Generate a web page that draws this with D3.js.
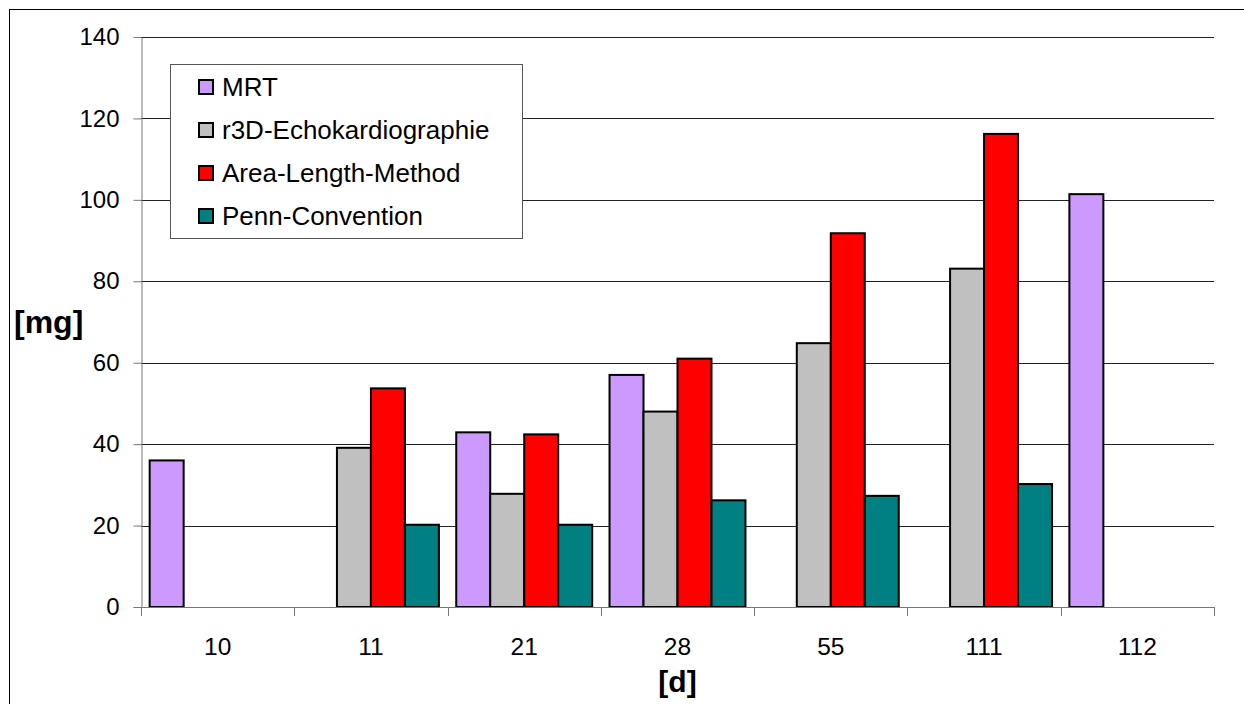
<!DOCTYPE html>
<html>
<head>
<meta charset="utf-8">
<script src="https://cdn.jsdelivr.net/npm/d3@7"></script>
<style>
  html, body { margin: 0; padding: 0; background: #fff; }
  svg { display: block; font-family: Arial, "Liberation Sans", sans-serif; }
</style>
</head>
<body>
<svg id="chart" width="1244" height="704"></svg>
<script>
// Days after measurement start
const categories = ["10", "11", "21", "28", "55", "111", "112"];
const seriesNames = ["MRT", "r3D-Echokardiographie", "Area-Length-Method", "Penn-Convention"];
const seriesColors = ["#CC99FF", "#C0C0C0", "#FF0000", "#008080"];
// Left-ventricular mass per method [mg]; null = not measured
const mrt   = [36, null, 42.9, 57, null, null, 101.4];
const r3d   = [null, 39.1, 27.8, 48.0, 64.8, 83.1, null];
const alm   = [null, 53.7, 42.4, 61.0, 91.8, 116.2, null];
const penn  = [null, 20.2, 20.2, 26.2, 27.3, 30.2, null];
const yTicks = [0, 20, 40, 60, 80, 100, 120, 140];

const seriesValues = [mrt, r3d, alm, penn];

const svg = d3.select("#chart");
const plotLeft = 141, plotRight = 1214, plotTop = 37, plotBottom = 607;

// outer chart frame
svg.append("rect")
  .attr("x", 9.5).attr("y", 9.5)
  .attr("width", 1300).attr("height", 800)
  .attr("fill", "none").attr("stroke", "#000").attr("stroke-width", 1);

const x = d3.scaleBand().domain(categories).range([plotLeft, plotRight]).padding(0);
const xi = d3.scaleBand().domain(seriesNames).range([0, x.bandwidth()])
  .paddingInner(0).paddingOuter(0.255);
const y = d3.scaleLinear().domain([0, 140]).range([plotBottom, plotTop]);

// horizontal gridlines
svg.append("g").selectAll("line")
  .data(yTicks.filter(t => t > 0))
  .join("line")
  .attr("x1", plotLeft).attr("x2", plotRight)
  .attr("y1", d => Math.round(y(d)) + 0.5).attr("y2", d => Math.round(y(d)) + 0.5)
  .attr("stroke", "#222").attr("stroke-width", 1);

// y axis
const yAxis = svg.append("g")
  .attr("transform", `translate(${plotLeft + 0.5},0)`)
  .call(d3.axisLeft(y).tickValues(yTicks).tickSize(8).tickPadding(14).tickSizeOuter(0));
yAxis.select(".domain").attr("stroke", "#777");
yAxis.selectAll(".tick line").attr("stroke", "#777");
yAxis.selectAll(".tick text")
  .attr("font-size", 24).attr("fill", "#000")
  .attr("font-family", "Arial, 'Liberation Sans', sans-serif");

// bars
const groups = svg.append("g").selectAll("g")
  .data(categories)
  .join("g")
  .attr("transform", d => `translate(${x(d)},0)`);

groups.selectAll("rect")
  .data((c, ci) => seriesNames.map((s, si) => ({ s, si, v: seriesValues[si][ci] })).filter(d => d.v != null))
  .join("rect")
  .attr("x", d => xi(d.s))
  .attr("width", xi.bandwidth())
  .attr("y", d => y(d.v))
  .attr("height", d => y(0) - y(d.v))
  .attr("fill", d => seriesColors[d.si])
  .attr("stroke", "#000").attr("stroke-width", 2);

// x axis: ticks between categories
const xAxisG = svg.append("g");
xAxisG.append("line")
  .attr("x1", plotLeft).attr("x2", plotRight)
  .attr("y1", plotBottom + 0.5).attr("y2", plotBottom + 0.5)
  .attr("stroke", "#777");
const bounds = categories.map(c => x(c)).concat([x(categories[categories.length - 1]) + x.bandwidth()]);
xAxisG.selectAll("line.sep")
  .data(bounds)
  .join("line")
  .attr("class", "sep")
  .attr("x1", d => Math.round(d) + 0.5).attr("x2", d => Math.round(d) + 0.5)
  .attr("y1", plotBottom).attr("y2", plotBottom + 9)
  .attr("stroke", "#777");
xAxisG.selectAll("text")
  .data(categories)
  .join("text")
  .attr("x", d => x(d) + x.bandwidth() / 2)
  .attr("y", 655)
  .attr("text-anchor", "middle")
  .attr("font-size", 24.5)
  .text(d => d);

// axis titles
svg.append("text")
  .attr("x", (plotLeft + plotRight) / 2).attr("y", 692)
  .attr("text-anchor", "middle")
  .attr("font-size", 30).attr("font-weight", "bold")
  .text("[d]");
svg.append("text")
  .attr("x", 14).attr("y", 333)
  .attr("font-size", 32).attr("font-weight", "bold")
  .text("[mg]");

// legend
const lg = svg.append("g");
lg.append("rect")
  .attr("x", 170.5).attr("y", 64.5)
  .attr("width", 352).attr("height", 174)
  .attr("fill", "#fff").attr("stroke", "#555").attr("stroke-width", 1);
const rows = lg.selectAll("g.row")
  .data(seriesNames)
  .join("g")
  .attr("class", "row")
  .attr("transform", (d, i) => `translate(0,${87 + i * 43})`);
rows.append("rect")
  .attr("x", 199).attr("y", -7)
  .attr("width", 14).attr("height", 14)
  .attr("fill", (d, i) => seriesColors[i])
  .attr("stroke", "#000").attr("stroke-width", 2);
rows.append("text")
  .attr("x", 222).attr("y", 9)
  .attr("font-size", 26)
  .text(d => d);
</script>
</body>
</html>
